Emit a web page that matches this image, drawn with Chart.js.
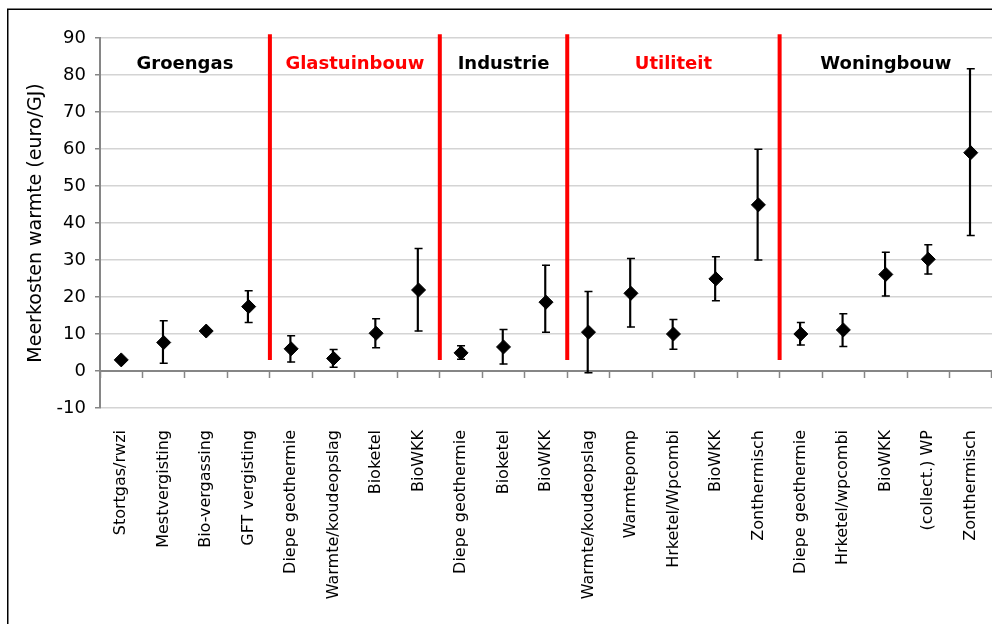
<!DOCTYPE html>
<html>
<head>
<meta charset="utf-8">
<title>Meerkosten warmte</title>
<script src="https://cdn.jsdelivr.net/npm/chart.js@4/dist/chart.umd.min.js"></script>
<style>
  body { margin: 0; background: #fff; }
  #grafico { display: block; }
</style>
</head>
<body>
<canvas id="grafico" width="992" height="624"></canvas>
<script>
/*==========================================================
DATOS
==========================================================*/
const categorias = [
  "Stortgas/rwzi", "Mestvergisting", "Bio-vergassing", "GFT vergisting",
  "Diepe geothermie", "Warmte/koudeopslag", "Bioketel", "BioWKK",
  "Diepe geothermie", "Bioketel", "BioWKK",
  "Warmte/koudeopslag", "Warmtepomp", "Hrketel/Wpcombi", "BioWKK", "Zonthermisch",
  "Diepe geothermie", "Hrketel/wpcombi", "BioWKK", "(collect.) WP", "Zonthermisch",
];
// waarde (ruit), onder- en bovengrens van de foutbalk
const waarde = [3.0, 7.7, 10.8, 17.4, 6.0, 3.4, 10.2, 21.9, 4.9, 6.5, 18.6, 10.5, 21.0, 10.0, 24.9, 44.9, 10.0, 11.1, 26.1, 30.2, 59.0];
const ondergrens = [null, 2.1, null, 13.1, 2.4, 1.0, 6.3, 10.8, 3.2, 1.9, 10.5, -0.5, 11.9, 5.9, 19.0, 30.0, 7.0, 6.6, 20.3, 26.2, 36.6];
const bovengrens = [null, 13.6, null, 21.7, 9.5, 5.8, 14.1, 33.1, 6.8, 11.2, 28.6, 21.5, 30.4, 13.9, 30.9, 59.9, 13.1, 15.5, 32.1, 34.1, 81.7];

// sectoren: naam, eerste en laatste categorie
const groepNamen = ["Groengas", "Glastuinbouw", "Industrie", "Utiliteit", "Woningbouw"];
const groepStart = [0, 4, 8, 11, 16];
const groepEinde = [3, 7, 10, 15, 20];
const groepKleur = ["#000000", "#ff0000", "#000000", "#ff0000", "#000000"];
const groepLabelY = 83;

// rode scheidingslijnen lopen van 3 tot 91
const scheidingVan = 3;
const scheidingTot = 91;

const yTicks = { min: -10, max: 90, stap: 10 };

/*==========================================================
DATASETS
==========================================================*/
const zwart = "#000000";
const fontFam = "'DejaVu Sans', Verdana, sans-serif";

let datasets = [];

datasets.push({
  type: "line",
  label: "waarde",
  data: waarde,
  showLine: false,
  pointStyle: "rectRot",
  pointRadius: 7,
  pointBackgroundColor: zwart,
  pointBorderColor: zwart,
  pointBorderWidth: 1,
  order: 0,
});

// foutbalk als zwevende staaf
datasets.push({
  type: "bar",
  label: "foutbalk",
  data: waarde.map((v, i) => (ondergrens[i] === null ? null : [ondergrens[i], bovengrens[i]])),
  backgroundColor: zwart,
  barThickness: 1.5,
  order: 2,
});

// kapjes boven en onder
[ondergrens, bovengrens].forEach((grens) => {
  datasets.push({
    type: "line",
    label: "kap",
    data: grens,
    showLine: false,
    pointStyle: "line",
    pointRadius: 4,
    pointBorderColor: zwart,
    pointBorderWidth: 1.5,
    order: 1,
  });
});

// rode lijnen tussen de sectoren
for (let g = 0; g < groepEinde.length - 1; g++) {
  let x = groepEinde[g] + 0.5;
  datasets.push({
    type: "line",
    label: "scheiding",
    xAxisID: "xs",
    data: [
      { x: x, y: scheidingVan },
      { x: x, y: scheidingTot },
    ],
    borderColor: "#ff0000",
    borderWidth: 4,
    pointRadius: 0,
    clip: false,
    order: 3,
  });
}

/*==========================================================
PLUGINS
==========================================================*/
const kaderPlugin = {
  id: "kader",
  beforeDraw(chart) {
    const ctx = chart.ctx;
    ctx.save();
    ctx.fillStyle = "#ffffff";
    ctx.fillRect(0, 0, chart.width, chart.height);
    ctx.strokeStyle = "#000000";
    ctx.lineWidth = 1.5;
    ctx.strokeRect(7.75, 9.25, chart.width + 20, chart.height + 20);
    ctx.restore();
  },
};

const groepPlugin = {
  id: "groepen",
  afterDatasetsDraw(chart) {
    const ctx = chart.ctx;
    const xs = chart.scales.xs;
    const y = chart.scales.y.getPixelForValue(groepLabelY);
    ctx.save();
    ctx.font = "bold 18px " + fontFam;
    ctx.textAlign = "center";
    ctx.textBaseline = "middle";
    groepNamen.forEach((naam, g) => {
      ctx.fillStyle = groepKleur[g];
      ctx.fillText(naam, xs.getPixelForValue((groepStart[g] + groepEinde[g]) / 2), y);
    });
    ctx.restore();
  },
};

// geen extra ruimte links/rechts voor de as-labels
function geenZijPadding(s) {
  s.paddingLeft = 0;
  s.paddingRight = 0;
}

/*==========================================================
GRAFIEK
==========================================================*/
const ctx = document.getElementById("grafico").getContext("2d");
new Chart(ctx, {
  data: {
    labels: categorias,
    datasets: datasets,
  },
  options: {
    responsive: false,
    animation: false,
    layout: { autoPadding: false, padding: { top: 38, left: 0, right: 0, bottom: 0 } },
    plugins: {
      legend: { display: false },
      tooltip: { enabled: false },
    },
    scales: {
      x: {
        type: "category",
        offset: true,
        grid: { display: false, drawTicks: false },
        border: { display: false },
        ticks: {
          autoSkip: false,
          maxRotation: 90,
          minRotation: 90,
          padding: 22,
          color: "#000000",
          font: { family: fontFam, size: 16 },
        },
        afterFit: (s) => {
          s.height = 216;
          geenZijPadding(s);
        },
      },
      x0: {
        type: "category",
        position: { y: 0 },
        offset: true,
        grid: {
          offset: true,
          drawOnChartArea: false,
          drawTicks: true,
          tickLength: 6,
          tickColor: "#868686",
          tickWidth: 1.5,
        },
        border: { display: true, color: "#868686", width: 2 },
        ticks: { display: false },
        afterFit: geenZijPadding,
      },
      xs: {
        type: "linear",
        display: false,
        min: -0.5,
        max: categorias.length - 0.5,
        afterFit: geenZijPadding,
      },
      y: {
        min: yTicks.min,
        max: yTicks.max,
        ticks: {
          stepSize: yTicks.stap,
          padding: 9,
          color: "#000000",
          font: { family: fontFam, size: 18 },
        },
        grid: {
          color: "#d4d4d4",
          lineWidth: 1.5,
          tickLength: 5,
          tickColor: "#868686",
        },
        border: { color: "#868686", width: 2 },
        title: {
          display: true,
          text: "Meerkosten warmte (euro/GJ)",
          color: "#000000",
          font: { family: fontFam, size: 19 },
          padding: { top: 25, bottom: 0 },
        },
        afterFit: (s) => {
          s.width = 100;
        },
      },
    },
  },
  plugins: [kaderPlugin, groepPlugin],
});
</script>
</body>
</html>
